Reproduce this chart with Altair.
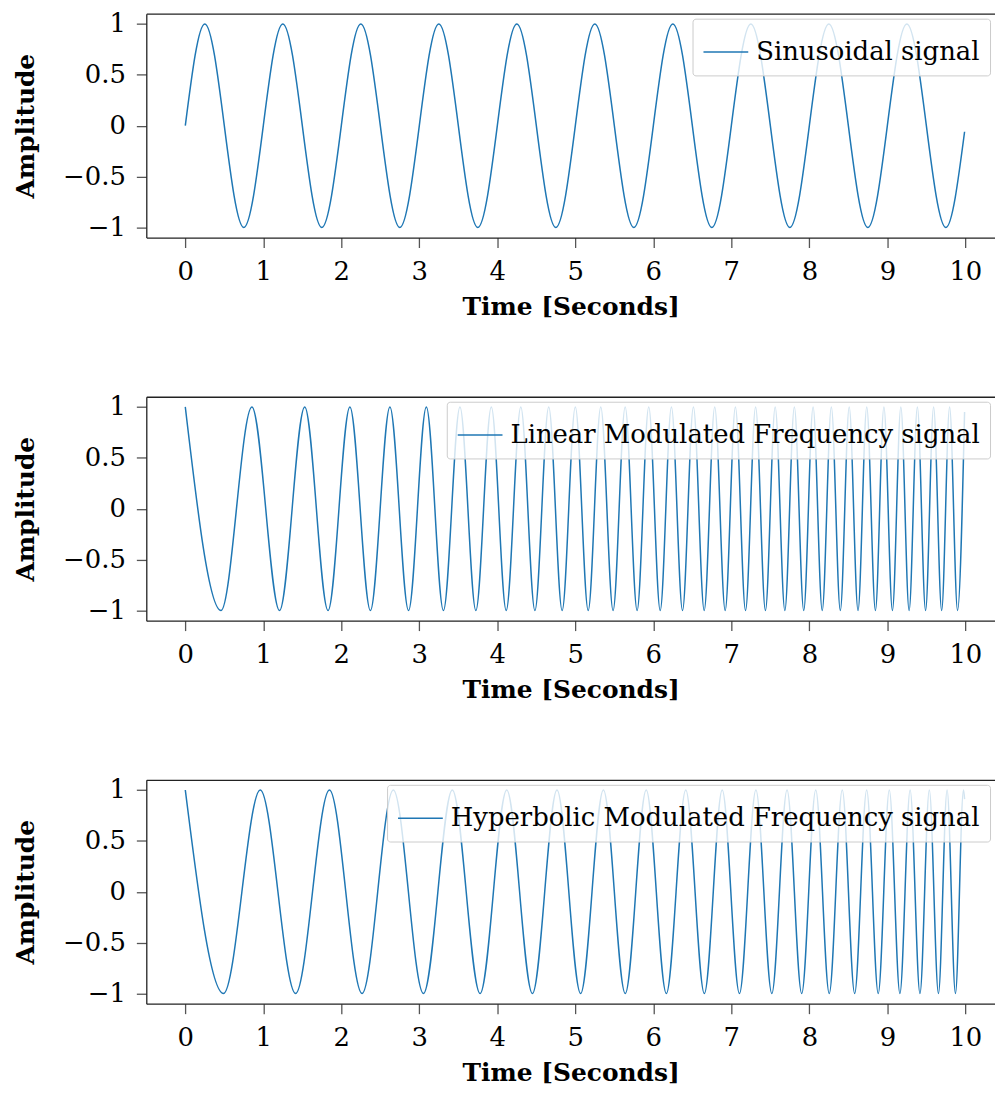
import altair as alt
import pandas as pd

FONT = "DejaVu Serif"
BLUE = "#1f77b4"

x_ticks = [0, 1, 2, 3, 4, 5, 6, 7, 8, 9, 10]
y_ticks = [-1, -0.5, 0, 0.5, 1]

names = ["Sinusoidal signal",
         "Linear Modulated Frequency signal",
         "Hyperbolic Modulated Frequency signal"]

# sinusoidal signal: start, peaks / troughs, last sample
sin_t = [0, 0.25, 0.75, 1.25, 1.75, 2.25, 2.75, 3.25, 3.75, 4.25, 4.75,
         5.25, 5.75, 6.25, 6.75, 7.25, 7.75, 8.25, 8.75, 9.25, 9.75, 9.99]
sin_y = [0, 1, -1, 1, -1, 1, -1, 1, -1, 1, -1,
         1, -1, 1, -1, 1, -1, 1, -1, 1, -1, -0.06]

# linear chirp: peaks / troughs positions
lin_t = [0.000, 0.458, 0.854, 1.208, 1.531, 1.830, 2.110, 2.373, 2.623, 2.862,
         3.090, 3.309, 3.521, 3.725, 3.923, 4.114, 4.301, 4.482, 4.659, 4.831,
         5.000, 5.165, 5.326, 5.484, 5.639, 5.792, 5.941, 6.088, 6.232, 6.374,
         6.514, 6.652, 6.787, 6.921, 7.052, 7.182, 7.311, 7.437, 7.562, 7.686,
         7.808, 7.928, 8.048, 8.165, 8.282, 8.397, 8.511, 8.624, 8.736, 8.847,
         8.956, 9.065, 9.173, 9.279, 9.385, 9.490, 9.593, 9.696, 9.798, 9.900,
         9.990]
lin_y = [1, -1, 1, -1, 1, -1, 1, -1, 1, -1,
         1, -1, 1, -1, 1, -1, 1, -1, 1, -1,
         1, -1, 1, -1, 1, -1, 1, -1, 1, -1,
         1, -1, 1, -1, 1, -1, 1, -1, 1, -1,
         1, -1, 1, -1, 1, -1, 1, -1, 1, -1,
         1, -1, 1, -1, 1, -1, 1, -1, 1, -1,
         0.95]

# hyperbolic chirp: peaks / troughs positions
hyp_t = [0.000, 0.490, 0.961, 1.414, 1.848, 2.266, 2.667, 3.053, 3.423, 3.779,
         4.121, 4.450, 4.765, 5.068, 5.360, 5.640, 5.909, 6.167, 6.416, 6.654,
         6.883, 7.104, 7.315, 7.519, 7.714, 7.902, 8.082, 8.255, 8.422, 8.581,
         8.735, 8.883, 9.025, 9.161, 9.292, 9.418, 9.538, 9.655, 9.766, 9.873,
         9.976, 9.990]
hyp_y = [1, -1, 1, -1, 1, -1, 1, -1, 1, -1,
         1, -1, 1, -1, 1, -1, 1, -1, 1, -1,
         1, -1, 1, -1, 1, -1, 1, -1, 1, -1,
         1, -1, 1, -1, 1, -1, 1, -1, 1, -1,
         1, 0.91]

W = 853
H = 225


def panel(t, y, name):
    df = pd.DataFrame({"t": t, "y": y, "signal": name})
    xscale = alt.Scale(domain=[-0.5, 10.38], nice=False, zero=False)
    line = alt.Chart(df).mark_line(strokeWidth=1.5, interpolate="monotone").encode(
        x=alt.X("t:Q", scale=xscale,
                axis=alt.Axis(values=x_ticks, format="d", title="Time [Seconds]")),
        y=alt.Y("y:Q", scale=alt.Scale(domain=[-1.1, 1.1], nice=False, zero=False),
                axis=alt.Axis(values=y_ticks, format="~g", title="Amplitude")),
        color=alt.Color("signal:N",
                        scale=alt.Scale(domain=[name], range=[BLUE]),
                        legend=alt.Legend(title=None, orient="top-right", offset=5,
                                          fillColor="rgba(255,255,255,0.8)",
                                          strokeColor="#cccccc", cornerRadius=3,
                                          padding=10, symbolType="stroke",
                                          symbolSize=2025, symbolStrokeWidth=1.5,
                                          labelFont=FONT, labelFontSize=26,
                                          labelLimit=1000,
                                          labelColor="#000000", labelOffset=7)),
    )
    top = alt.Chart(df).mark_point(opacity=0).encode(
        x=alt.X("t:Q", scale=xscale,
                axis=alt.Axis(orient="top", labels=False, ticks=False,
                              title=None, domain=True)),
    )
    return alt.layer(line, top).resolve_axis(x="independent").properties(width=W, height=H)


chart = alt.vconcat(
    panel(sin_t, sin_y, names[0]),
    panel(lin_t, lin_y, names[1]),
    panel(hyp_t, hyp_y, names[2]),
    spacing=75,
).resolve_scale(color="independent").properties(
    padding={"left": 5, "top": 0, "right": 0, "bottom": 0}
).configure(font=FONT).configure_axis(
    labelFont=FONT, titleFont=FONT, labelFontSize=26, titleFontSize=25,
    titleFontWeight="bold", labelColor="#000000", titleColor="#000000",
    tickColor="#555555", tickWidth=1.3, tickSize=10, domainColor="#222222",
    domainWidth=1.3, grid=False, labelPadding=11,
).configure_axisY(titlePadding=24).configure_axisX(titlePadding=10).configure_view(
    stroke=None
)

chart.save("out.html", embed_options={"renderer": "svg", "actions": False})
